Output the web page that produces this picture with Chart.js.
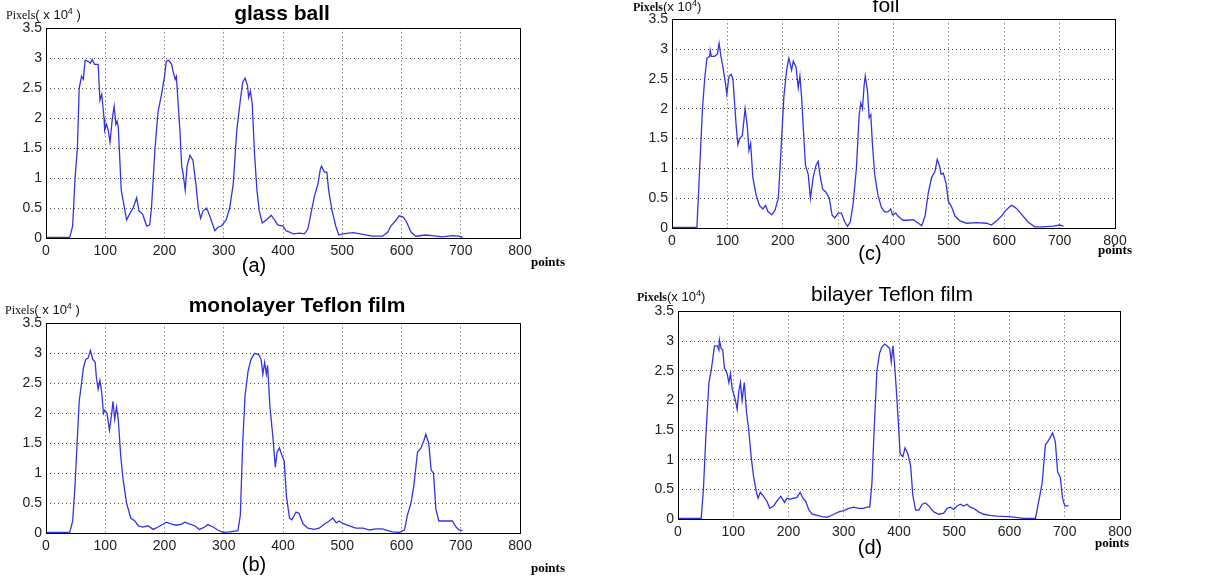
<!DOCTYPE html>
<html>
<head>
<meta charset="utf-8">
<script src="https://cdn.jsdelivr.net/npm/chart.js@4.4.1/dist/chart.umd.min.js"></script>
<style>
  body { margin: 0; background: #fff; width: 1206px; height: 580px; position: relative; overflow: hidden; }
  canvas { position: absolute; }
  .lbl { position: absolute; white-space: nowrap; color: #000; transform: translate(-50%, -50%); }
  .title { font-family: "Liberation Sans", Arial, sans-serif; font-size: 21px; }
  .sub { font-family: "Liberation Sans", Arial, sans-serif; font-size: 20px; }
  .unit { position: absolute; white-space: nowrap; font-family: "Liberation Sans", Arial, sans-serif; font-size: 13px; color: #111; }
  .unit b, .unit span.s { font-family: "Liberation Serif", serif; font-size: 12px; }
  .unit sup { font-size: 9px; }
  .pts { font-family: "Liberation Serif", serif; font-size: 13px; font-weight: bold; }
</style>
</head>
<body>
<canvas id="ca" width="534" height="246" style="left:6px;top:16px"></canvas>
<canvas id="cb" width="534" height="246" style="left:6px;top:311px"></canvas>
<canvas id="cc" width="503" height="245" style="left:632px;top:7px"></canvas>
<canvas id="cd" width="502" height="244" style="left:638px;top:299px"></canvas>

<div class="lbl title" style="left:282px;top:13px;font-weight:bold">glass ball</div>
<div class="lbl title" style="left:297px;top:305px;font-weight:bold">monolayer Teflon film</div>
<div class="lbl title" style="left:886px;top:5px">foil</div>
<div class="lbl title" style="left:892px;top:294px">bilayer Teflon film</div>

<div class="lbl sub" style="left:254px;top:265px">(a)</div>
<div class="lbl sub" style="left:254px;top:564px">(b)</div>
<div class="lbl sub" style="left:870px;top:253px">(c)</div>
<div class="lbl sub" style="left:870px;top:547px">(d)</div>

<div class="unit" style="left:6px;top:6px"><span class="s">Pixels</span>( x 10<sup>4</sup> )</div>
<div class="unit" style="left:5px;top:301px"><span class="s">Pixels</span>( x 10<sup>4</sup> )</div>
<div class="unit" style="left:633px;top:-2px"><b>Pixels</b>(x 10<sup>4</sup>)</div>
<div class="unit" style="left:637px;top:288px"><b>Pixels</b>(x 10<sup>4</sup>)</div>

<div class="lbl pts" style="left:548px;top:262px">points</div>
<div class="lbl pts" style="left:548px;top:568px">points</div>
<div class="lbl pts" style="left:1115px;top:250px">points</div>
<div class="lbl pts" style="left:1112px;top:543px">points</div>

<script>
// (a) glass ball
var glassX = [0, 20, 40, 45, 49, 53, 56, 60, 63, 66, 71, 75, 78, 82, 88, 91, 94, 98, 99, 102, 105, 108, 112, 115, 118, 120, 122, 127, 136, 141, 147, 153, 157, 163, 170, 175, 178, 184, 189, 195, 200, 203, 207, 212, 214, 218, 220, 226, 229, 231, 235, 238, 243, 248, 253, 257, 261, 265, 271, 276, 285, 290, 296, 304, 310, 316, 322, 328, 332, 336, 340, 342, 345, 348, 352, 356, 360, 365, 372, 380, 386, 391, 400, 405, 411, 417, 428, 436, 442, 447, 453, 459, 463, 465, 470, 474, 477, 483, 489, 494, 501, 518, 535, 551, 568, 577, 582, 591, 596, 603, 608, 616, 624, 641, 652, 669, 686, 697, 703];
var glassY = [0.01, 0.01, 0.01, 0.2, 1.0, 1.5, 2.5, 2.7, 2.65, 2.97, 2.95, 2.92, 2.98, 2.9, 2.9, 2.3, 2.4, 2.0, 1.8, 1.9, 1.8, 1.6, 2.0, 2.2, 1.9, 1.95, 1.85, 0.8, 0.3, 0.4, 0.5, 0.67, 0.45, 0.4, 0.2, 0.22, 0.5, 1.5, 2.1, 2.4, 2.7, 2.95, 2.97, 2.9, 2.8, 2.65, 2.7, 1.8, 1.2, 1.1, 0.8, 1.2, 1.38, 1.3, 0.9, 0.5, 0.33, 0.45, 0.5, 0.38, 0.12, 0.18, 0.2, 0.3, 0.5, 0.9, 1.8, 2.3, 2.6, 2.67, 2.55, 2.35, 2.45, 2.25, 1.4, 0.8, 0.45, 0.25, 0.3, 0.38, 0.3, 0.22, 0.2, 0.12, 0.1, 0.07, 0.08, 0.07, 0.15, 0.4, 0.7, 0.9, 1.15, 1.2, 1.1, 1.1, 0.8, 0.45, 0.2, 0.05, 0.07, 0.09, 0.06, 0.03, 0.03, 0.1, 0.2, 0.3, 0.37, 0.35, 0.28, 0.1, 0.03, 0.05, 0.04, 0.02, 0.04, 0.03, 0.01];

// (b) monolayer Teflon film
var monoX = [0, 20, 40, 45, 49, 53, 56, 60, 63, 67, 71, 75, 79, 83, 85, 88, 91, 94, 97, 99, 103, 107, 111, 113, 116, 119, 122, 126, 130, 136, 143, 150, 156, 164, 172, 181, 189, 198, 203, 212, 220, 229, 234, 243, 251, 259, 268, 273, 282, 290, 299, 310, 324, 328, 332, 336, 341, 346, 352, 359, 363, 366, 369, 372, 374, 378, 383, 387, 390, 394, 398, 402, 406, 411, 415, 422, 427, 434, 442, 453, 461, 470, 478, 484, 490, 495, 501, 512, 523, 535, 546, 557, 568, 577, 585, 596, 605, 610, 616, 621, 627, 633, 638, 641, 646, 650, 654, 658, 663, 675, 686, 692, 697, 703];
var monoY = [0.01, 0.01, 0.01, 0.2, 0.8, 1.6, 2.2, 2.5, 2.75, 2.9, 2.92, 3.05, 2.9, 2.85, 2.6, 2.4, 2.55, 2.35, 2.0, 2.05, 2.0, 1.72, 2.0, 2.2, 1.9, 2.1, 1.9, 1.3, 0.9, 0.5, 0.25, 0.2, 0.12, 0.1, 0.12, 0.06, 0.1, 0.15, 0.18, 0.15, 0.13, 0.15, 0.18, 0.15, 0.12, 0.06, 0.1, 0.14, 0.1, 0.05, 0.01, 0.02, 0.04, 0.3, 1.5, 2.3, 2.7, 2.9, 3.0, 2.98, 2.9, 2.65, 2.85, 2.65, 2.8, 2.1, 1.6, 1.1, 1.35, 1.42, 1.3, 1.2, 0.6, 0.25, 0.22, 0.35, 0.33, 0.15, 0.08, 0.06, 0.08, 0.15, 0.2, 0.25, 0.17, 0.2, 0.16, 0.12, 0.08, 0.08, 0.05, 0.07, 0.07, 0.04, 0.02, 0.01, 0.05, 0.3, 0.5, 0.8, 1.35, 1.42, 1.55, 1.65, 1.5, 1.05, 1.0, 0.4, 0.2, 0.2, 0.2, 0.1, 0.05, 0.04];

// (c) foil
var foilX = [0, 20, 45, 50, 55, 59, 63, 68, 69, 71, 77, 82, 85, 88, 92, 97, 99, 103, 107, 110, 113, 116, 119, 122, 127, 132, 136, 139, 142, 146, 152, 158, 164, 169, 173, 180, 186, 192, 198, 202, 207, 211, 216, 219, 224, 228, 231, 234, 237, 241, 246, 250, 255, 260, 264, 267, 272, 278, 284, 289, 294, 300, 306, 312, 317, 322, 327, 333, 338, 341, 344, 347, 349, 353, 356, 359, 362, 366, 372, 378, 384, 390, 395, 398, 404, 408, 417, 426, 436, 445, 451, 457, 463, 469, 475, 479, 483, 486, 490, 495, 499, 505, 511, 520, 532, 550, 568, 577, 586, 595, 601, 607, 613, 619, 625, 634, 643, 655, 670, 689, 700, 707];
var foilY = [0.01, 0.01, 0.01, 1.0, 2.0, 2.5, 2.85, 2.88, 2.98, 2.88, 2.88, 2.92, 3.1, 2.9, 2.7, 2.4, 2.25, 2.55, 2.58, 2.5, 2.1, 1.7, 1.4, 1.5, 1.55, 2.0, 1.7, 1.3, 1.42, 0.85, 0.55, 0.38, 0.32, 0.38, 0.28, 0.22, 0.3, 0.5, 1.5, 2.2, 2.65, 2.85, 2.65, 2.8, 2.7, 2.35, 2.55, 2.2, 1.7, 1.05, 0.9, 0.5, 0.85, 1.05, 1.12, 0.9, 0.65, 0.6, 0.5, 0.22, 0.17, 0.25, 0.25, 0.1, 0.03, 0.1, 0.4, 1.0, 1.9, 2.1, 2.0, 2.4, 2.55, 2.3, 1.85, 1.9, 1.4, 0.9, 0.55, 0.35, 0.27, 0.27, 0.32, 0.22, 0.25, 0.2, 0.13, 0.13, 0.14, 0.08, 0.04, 0.2, 0.6, 0.85, 0.95, 1.15, 1.05, 0.9, 0.92, 0.75, 0.45, 0.35, 0.2, 0.12, 0.08, 0.09, 0.08, 0.05, 0.12, 0.2, 0.28, 0.33, 0.38, 0.35, 0.3, 0.2, 0.1, 0.02, 0.02, 0.03, 0.05, 0.03];

// (d) bilayer Teflon film
var bilayerX = [0, 20, 42, 46, 51, 56, 60, 63, 66, 71, 74, 75, 78, 81, 84, 89, 92, 95, 98, 101, 104, 107, 110, 113, 116, 120, 124, 128, 133, 137, 142, 145, 149, 155, 161, 166, 173, 179, 186, 193, 197, 203, 209, 215, 221, 226, 231, 237, 243, 252, 261, 270, 282, 291, 300, 309, 318, 327, 336, 342, 347, 351, 355, 360, 365, 369, 374, 378, 383, 386, 389, 392, 395, 399, 402, 407, 411, 416, 421, 425, 430, 436, 442, 448, 454, 463, 472, 481, 487, 493, 499, 505, 511, 517, 523, 529, 535, 544, 553, 565, 577, 596, 608, 626, 647, 653, 659, 665, 669, 674, 678, 683, 687, 692, 696, 700, 707];
var bilayerY = [0.01, 0.01, 0.01, 0.5, 1.5, 2.3, 2.5, 2.7, 2.92, 2.92, 2.85, 3.02, 2.88, 2.85, 2.55, 2.45, 2.3, 2.45, 2.2, 2.1, 2.0, 1.85, 2.15, 2.3, 2.0, 2.3, 1.8, 1.5, 1.0, 0.7, 0.45, 0.35, 0.45, 0.38, 0.3, 0.18, 0.22, 0.3, 0.38, 0.28, 0.35, 0.33, 0.35, 0.36, 0.45, 0.35, 0.3, 0.15, 0.08, 0.06, 0.04, 0.03, 0.08, 0.12, 0.14, 0.18, 0.2, 0.18, 0.18, 0.2, 0.2, 0.6, 1.5, 2.5, 2.8, 2.9, 2.95, 2.92, 2.88, 2.65, 2.92, 2.6, 2.2, 1.6, 1.1, 1.05, 1.2, 1.1, 0.9, 0.4, 0.15, 0.15, 0.25, 0.27, 0.22, 0.12, 0.08, 0.1, 0.18, 0.2, 0.16, 0.22, 0.25, 0.22, 0.25, 0.2, 0.18, 0.12, 0.08, 0.06, 0.05, 0.04, 0.03, 0.01, 0.01, 0.3, 0.6, 1.25, 1.3, 1.38, 1.45, 1.3, 0.8, 0.7, 0.35, 0.22, 0.22];

var xMin = 0, xMax = 800, xStep = 100;
var yMin = 0, yMax = 3.5, yStep = 0.5;

function toPoints(xs, ys) {
    var pts = [];
    for (var i = 0; i < xs.length; i++) {
        pts.push({x: xs[i], y: ys[i]});
    }
    return pts;
}

// black box round the plot area, like matlab's axes
var frame = {
    id: 'frame',
    afterDraw: function(chart) {
        var a = chart.chartArea;
        var c = chart.ctx;
        c.save();
        c.strokeStyle = '#000';
        c.lineWidth = 1;
        c.strokeRect(Math.round(a.left) + 0.5, Math.round(a.top) + 0.5, Math.round(a.right - a.left), Math.round(a.bottom - a.top));
        c.restore();
    }
};

function makeChart(id, xs, ys) {
    var tickFont = {family: '"Liberation Sans", Arial, sans-serif', size: 14};
    return new Chart(document.getElementById(id).getContext('2d'), {
        type: 'line',
        data: {
            datasets: [{
                data: toPoints(xs, ys),
                borderColor: '#3434e4',
                borderWidth: 1.3,
                pointRadius: 0,
                tension: 0,
                fill: false
            }]
        },
        options: {
            responsive: false,
            animation: false,
            devicePixelRatio: 1,
            layout: {padding: {top: 10, right: 20, bottom: 0, left: 0}},
            plugins: {legend: {display: false}, tooltip: {enabled: false}},
            scales: {
                x: {
                    type: 'linear', min: xMin, max: xMax,
                    ticks: {stepSize: xStep, font: tickFont, color: '#222', padding: 5, maxRotation: 0},
                    grid: {color: 'rgba(0,0,0,0.7)', drawTicks: false},
                    border: {display: false, dash: [1, 3]},
                    afterFit: function(s) { s.height = 24; }
                },
                y: {
                    min: yMin, max: yMax,
                    ticks: {
                        stepSize: yStep, font: tickFont, color: '#222', padding: 4,
                        callback: function(v) { return String(v); }
                    },
                    grid: {color: 'rgba(0,0,0,0.7)', drawTicks: false},
                    border: {display: false, dash: [1, 3]},
                    afterFit: function(s) { s.width = 40; }
                }
            }
        },
        plugins: [frame]
    });
}

makeChart('ca', glassX, glassY);
makeChart('cb', monoX, monoY);
makeChart('cc', foilX, foilY);
makeChart('cd', bilayerX, bilayerY);
</script>
</body>
</html>
